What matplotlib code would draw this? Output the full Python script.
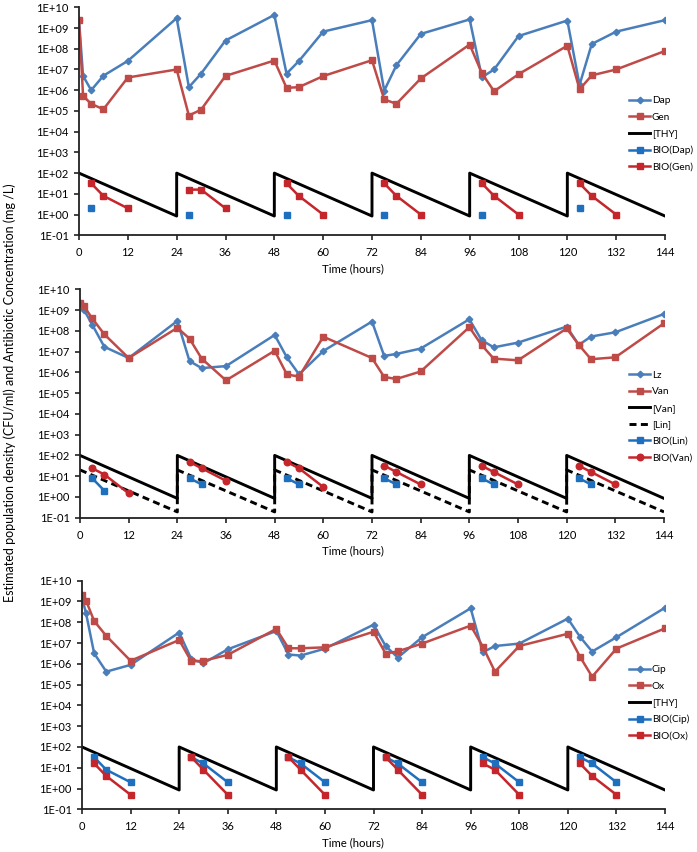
import numpy as np
import matplotlib
matplotlib.use("Agg")
import matplotlib.pyplot as plt
from matplotlib.ticker import FuncFormatter, FixedLocator, NullLocator

plt.rcParams['font.family'] = ['Lato', 'DejaVu Sans']

# sampling times (hours) for the population counts
t_pop = [0, 1, 3, 6, 12, 24, 27, 30, 36, 48, 51, 54, 60, 72, 75, 78, 84,
         96, 99, 102, 108, 120, 123, 126, 132, 144]

# panel 1: daptomycin / gentamicin
dap = [2.4e9, 4.9e6, 1.0e6, 5.0e6, 2.6e7, 3.0e9, 1.4e6, 6.3e6, 2.5e8, 4.3e9,
       6.3e6, 2.5e7, 6.7e8, 2.4e9, 9.5e5, 1.6e7, 5.2e8, 2.6e9, 4.2e6, 1.0e7,
       4.1e8, 2.3e9, 1.8e6, 1.7e8, 6.7e8, 2.4e9]
gen = [2.4e9, 5.3e5, 2.2e5, 1.2e5, 4.1e6, 1.0e7, 6.0e4, 1.15e5, 4.9e6, 2.7e7,
       1.3e6, 1.4e6, 4.8e6, 2.8e7, 3.6e5, 2.2e5, 3.7e6, 1.6e8, 6.6e6, 8.9e5,
       5.9e6, 1.4e8, 1.1e6, 5.2e6, 1.0e7, 7.8e7]

# panel 2: linezolid / vancomycin
lz = [2.1e9, 1.0e9, 2.0e8, 1.7e7, 4.9e6, 3.0e8, 3.5e6, 1.6e6, 2.0e6, 6.3e7,
      5.3e6, 8.0e5, 1.07e7, 2.8e8, 6.2e6, 7.7e6, 1.4e7, 3.6e8, 3.6e7, 1.6e7,
      2.7e7, 1.6e8, 2.1e7, 5.3e7, 8.5e7, 6.5e8]
van = [2.3e9, 1.5e9, 4.0e8, 6.8e7, 4.9e6, 1.4e8, 4.2e7, 4.6e6, 4.1e5, 1.1e7,
       8.0e5, 6.2e5, 5.2e7, 4.9e6, 6.0e5, 4.8e5, 1.1e6, 1.5e8, 2.1e7, 4.6e6,
       3.8e6, 1.3e8, 2.1e7, 4.3e6, 5.3e6, 2.3e8]

# panel 3: ciprofloxacin / oxacillin
cip = [1.5e9, 2.7e8, 3.2e6, 4.2e5, 8.9e5, 3.2e7, 1.7e6, 1.07e6, 5.0e6, 3.8e7,
       2.8e6, 2.5e6, 5.4e6, 7.6e7, 7.2e6, 2.0e6, 1.9e7, 4.7e8, 3.6e6, 7.2e6,
       9.4e6, 1.5e8, 2.0e7, 3.9e6, 1.9e7, 5.0e8]
ox = [2.1e9, 1.1e9, 1.15e8, 2.2e7, 1.4e6, 1.4e7, 1.3e6, 1.4e6, 2.7e6, 4.8e7,
      5.6e6, 5.6e6, 6.2e6, 3.5e7, 3.1e6, 4.0e6, 9.4e6, 6.9e7, 6.7e6, 4.2e5,
      7.2e6, 2.8e7, 2.2e6, 2.4e5, 5.4e6, 5.1e7]

# simulated drug concentrations (sawtooth, dosed every 24 h)
t_dose = [0, 24, 24, 48, 48, 72, 72, 96, 96, 120, 120, 144]
thy_conc = [100, 0.85, 100, 0.85, 100, 0.85, 100, 0.85, 100, 0.85, 100, 0.85]
lin_conc = [20, 0.19, 20, 0.19, 20, 0.19, 20, 0.19, 20, 0.19, 20, 0.19]

# bioassay measurements, samples after each dose
t_bio = [3, 6, 12, 27, 30, 36, 51, 54, 60, 75, 78, 84, 99, 102, 108, 123, 126, 132]
t_bio2 = [3, 6, 27, 30, 51, 54, 75, 78, 99, 102, 123, 126]
t_bio1 = [3, 27, 51, 75, 99, 123]
bio_dap = [2, 1, 1, 1, 1, 2]
bio_gen = [32, 8, 2, 16, 16, 2, 32, 8, 1, 32, 8, 1, 32, 8, 1, 32, 8, 1]
bio_lin = [8, 2, 8, 4, 8, 4, 8, 4, 8, 4, 8, 4]
bio_van = [24, 12, 1.5, 48, 24, 6, 48, 24, 3, 32, 16, 4, 32, 16, 4, 32, 16, 4]
bio_cip = [32, 8, 2, 32, 16, 2, 32, 16, 2, 32, 16, 2, 32, 16, 2, 32, 16, 2]
bio_ox = [16, 4, 0.5, 32, 8, 0.5, 32, 8, 0.5, 32, 8, 0.5, 16, 8, 0.5, 16, 4, 0.5]

BLUE = '#4A7EBB'
RED = '#BE4B48'
BIO_BLUE = '#1F6FBF'
BIO_RED = '#C4262C'


def split_doses(t, v):
    # break the line between dosing intervals
    tt, vv = [], []
    last = None
    for a, b in zip(t, v):
        d = int(a // 24)
        if last is not None and d != last:
            tt.append(np.nan)
            vv.append(np.nan)
        tt.append(a)
        vv.append(b)
        last = d
    return tt, vv


def fmt(v, pos):
    e = int(round(np.log10(v)))
    return f"1E{e:+03d}"


def style_axis(ax, pos_px, label_x_px):
    ax.set_yscale('log')
    ax.set_ylim(0.1, 1e10)
    ax.set_xlim(0, 144)
    ax.yaxis.set_major_locator(FixedLocator([10.0 ** k for k in range(-1, 11)]))
    ax.yaxis.set_minor_locator(NullLocator())
    ax.yaxis.set_major_formatter(FuncFormatter(fmt))
    ax.set_xticks(range(0, 145, 12))
    for s in ['top', 'right']:
        ax.spines[s].set_visible(False)
    for s in ['left', 'bottom']:
        ax.spines[s].set_linewidth(1.3)
        ax.spines[s].set_color('#222222')
    ax.tick_params(axis='both', which='major', direction='out', length=3.5,
                   width=1.2, color='#222222', labelsize=8, pad=5)
    ax.tick_params(axis='y', pad=4)
    ax.set_xlabel('Time (hours)', fontsize=8.2)
    l, t, r, b = pos_px
    ax.xaxis.set_label_coords((label_x_px - l) / (r - l), -28 / (b - t))


fig = plt.figure(figsize=(6.97, 8.52), dpi=100)
W, H = 697.0, 852.0


def add_ax(l, t, r, b):
    return fig.add_axes([l / W, 1 - b / H, (r - l) / W, (b - t) / H])


pos1 = (79, 7.3, 665, 235.3)
pos2 = (80, 289.3, 664, 517.7)
pos3 = (82, 580.7, 665, 809.3)

lw = 1.8
ms = 4.7

# ---- panel 1
ax1 = add_ax(*pos1)
ax1.plot(t_pop, dap, color=BLUE, lw=lw, marker='D', ms=3.3, label='Dap')
ax1.plot(t_pop, gen, color=RED, lw=lw, marker='s', ms=ms, label='Gen')
ax1.plot(t_dose, thy_conc, color='black', lw=2.1, label='[THY]')
tt, vv = split_doses(t_bio1, bio_dap)
ax1.plot(tt, vv, color=BIO_BLUE, lw=lw, marker='s', ms=ms, label='BIO(Dap)')
tt, vv = split_doses(t_bio, bio_gen)
ax1.plot(tt, vv, color=BIO_RED, lw=lw, marker='s', ms=ms, label='BIO(Gen)')
style_axis(ax1, pos1, 353)

# ---- panel 2
ax2 = add_ax(*pos2)
ax2.plot(t_pop, lz, color=BLUE, lw=lw, marker='D', ms=3.3, label='Lz')
ax2.plot(t_pop, van, color=RED, lw=lw, marker='s', ms=ms, label='Van')
ax2.plot(t_dose, thy_conc, color='black', lw=2.1, label='[Van]')
ax2.plot(t_dose, lin_conc, color='black', lw=2.1, ls=(0, (2.4, 1.5)), label='[Lin]')
tt, vv = split_doses(t_bio2, bio_lin)
ax2.plot(tt, vv, color=BIO_BLUE, lw=lw, marker='s', ms=ms, label='BIO(Lin)')
tt, vv = split_doses(t_bio, bio_van)
ax2.plot(tt, vv, color=BIO_RED, lw=lw, marker='o', ms=ms, label='BIO(Van)')
style_axis(ax2, pos2, 353)

# ---- panel 3
ax3 = add_ax(*pos3)
ax3.plot(t_pop, cip, color=BLUE, lw=lw, marker='D', ms=3.3, label='Cip')
ax3.plot(t_pop, ox, color=RED, lw=lw, marker='s', ms=ms, label='Ox')
ax3.plot(t_dose, thy_conc, color='black', lw=2.1, label='[THY]')
tt, vv = split_doses(t_bio, bio_cip)
ax3.plot(tt, vv, color=BIO_BLUE, lw=lw, marker='s', ms=ms, label='BIO(Cip)')
tt, vv = split_doses(t_bio, bio_ox)
ax3.plot(tt, vv, color=BIO_RED, lw=lw, marker='s', ms=ms, label='BIO(Ox)')
style_axis(ax3, pos3, 353)

# legends sit to the right, partly over the plot area
for ax, yc in [(ax1, 134), (ax2, 416.7), (ax3, 703)]:
    ax.legend(loc='center left', bbox_to_anchor=(629 / W, 1 - yc / H),
              bbox_transform=fig.transFigure, frameon=False, fontsize=7.2,
              handlelength=2.1, handletextpad=0.2, labelspacing=0.75,
              borderpad=0, borderaxespad=0)

fig.text(10 / W, 1 - 393 / H,
         'Estimated population density (CFU/ml) and Antibiotic Concentration (mg /L)',
         rotation=90, ha='center', va='center', fontsize=9)

fig.savefig('out.png', dpi=100)
